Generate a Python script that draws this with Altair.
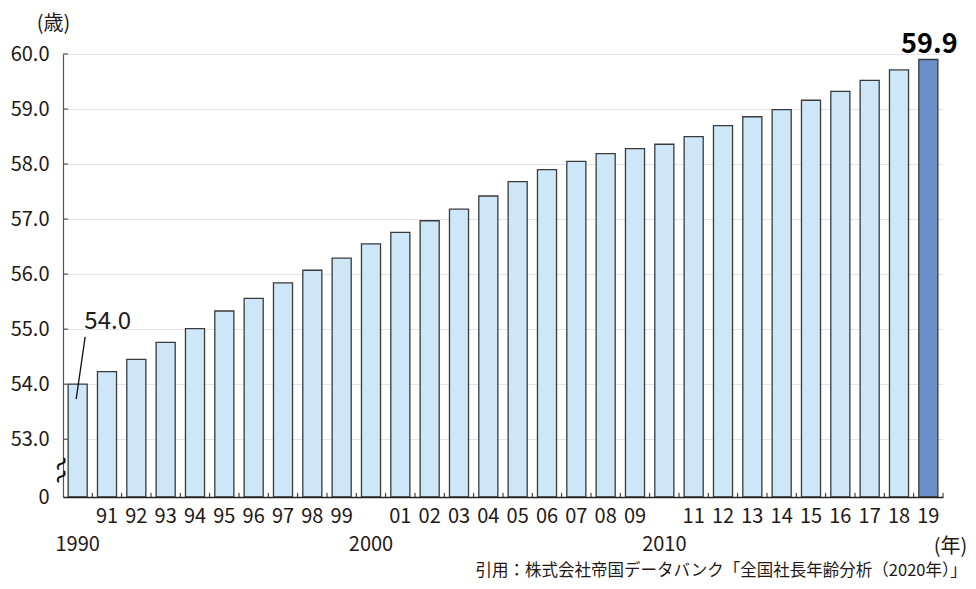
import altair as alt
import pandas as pd

FONT = "Noto Sans CJK JP"
TEXT = "#231815"

# ---- data ----
years = list(range(1990, 2020))
ages = [54.0, 54.23, 54.45, 54.76, 55.01, 55.33, 55.56, 55.84, 56.07, 56.29,
        56.55, 56.76, 56.97, 57.18, 57.42, 57.68, 57.90, 58.05, 58.19, 58.28,
        58.36, 58.50, 58.70, 58.86, 58.99, 59.16, 59.32, 59.52, 59.71, 59.9]
highlight_year = 2019

y_floor = 51.95                      # shown as "0" (broken axis)
y_ticks = [53, 54, 55, 56, 57, 58, 59, 60]

ann_years = [1990, 2019]
ann_labels = ["54.0", "59.9"]
ann_values = [54.0, 59.9]

leader_year = [1990]
leader_top = [54.86]
leader_bottom = [53.73]

break_marks = [52.53, 52.3]

source = "引用：株式会社帝国データバンク「全国社長年齢分析（2020年）」"

df = pd.DataFrame({"year": years, "age": ages})
ann = pd.DataFrame({"year": ann_years, "label": ann_labels, "age": ann_values})
lead = pd.DataFrame({"year": leader_year, "top": leader_top, "bottom": leader_bottom})
ytk = pd.DataFrame({"v": y_ticks})
brk = pd.DataFrame({"v": break_marks})

W, H = 880, 443
PAD_L, PAD_T = 55, 46
SVG_W, SVG_H = 960, 573

x_scale = alt.Scale(paddingInner=0, paddingOuter=0)
y_scale = alt.Scale(domain=[y_floor, 60], zero=False, nice=False)

x_axis = alt.Axis(
    title="(年)", titleAngle=0, titleX=W + 7, titleY=49,
    titleAlign="center", titleBaseline="middle", titleFontSize=20,
    titleFontWeight="normal", titleColor=TEXT,
    labelExpr="datum.value % 10 == 0 ? ['', '' + datum.value] : [slice('' + datum.value, 2)]",
    labelAngle=0, labelFontSize=20, labelLineHeight=28, labelPadding=9,
    labelColor=TEXT, ticks=False, domainColor="#222222", domainWidth=1.5,
    zindex=1,
)
y_axis = alt.Axis(
    values=[y_floor] + y_ticks,
    labelExpr="datum.value < 52.5 ? '0' : format(datum.value, '.1f')",
    ticks=False, grid=True, gridColor="#e4e4e4", gridWidth=1,
    domainColor="#555555", domainWidth=1.2,
    labelFontSize=20, labelPadding=14, labelColor=TEXT,
    title="(歳)", titleAngle=0, titleX=-10, titleY=-31,
    titleAlign="center", titleBaseline="middle", titleFontSize=20,
    titleFontWeight="normal", titleColor=TEXT,
)

X = alt.X("year:O", scale=x_scale, axis=x_axis)

bars = alt.Chart(df).mark_bar(
    width={"band": 0.65}, stroke="#3a3a3a", strokeWidth=1.3
).encode(
    x=X,
    y=alt.Y("age:Q", scale=y_scale, axis=y_axis),
    y2=alt.datum(y_floor),
    color=alt.condition(f"datum.year == {highlight_year}",
                        alt.value("#6a8fc9"), alt.value("#cde7f8")),
)

xticks = alt.Chart(df).mark_rule(color="#222222", strokeWidth=1).encode(
    x=alt.X("year:O", bandPosition=1),
    y=alt.datum(y_floor),
    y2=alt.datum(y_floor + 0.075),
)

yticks = alt.Chart(ytk).mark_rule(color="#555555", strokeWidth=1.2).encode(
    y="v:Q", x=alt.value(0), x2=alt.value(5),
)

label_first = alt.Chart(ann).transform_filter("datum.year == 1990").mark_text(
    fontSize=24, dx=30, dy=-62, color=TEXT, baseline="middle"
).encode(x="year:O", y="age:Q", text="label:N")

label_last = alt.Chart(ann).transform_filter(f"datum.year == {highlight_year}").mark_text(
    fontSize=27, fontWeight=600, dx=1, dy=-15, color="#000000", baseline="middle"
).encode(x="year:O", y="age:Q", text="label:N")

leader = alt.Chart(lead).mark_rule(
    color="#111111", strokeWidth=1.3, xOffset=7.5, x2Offset=-1.5
).encode(x="year:O", x2="year:O", y="top:Q", y2="bottom:Q")

breaks = alt.Chart(brk).mark_text(
    text="~", fontSize=30, angle=305, color="#111111", baseline="middle"
).encode(y="v:Q", x=alt.value(0))

chart = alt.layer(
    bars, xticks, yticks, leader, label_first, label_last, breaks
).properties(
    width=W, height=H,
    autosize=alt.AutoSizeParams(type="none"),
    padding={"left": PAD_L, "top": PAD_T,
             "right": SVG_W - PAD_L - W, "bottom": SVG_H - PAD_T - H},
    title=alt.TitleParams(
        text=source, orient="bottom", anchor="end", frame="bounds",
        fontSize=16.5, fontWeight="normal", color=TEXT, offset=7,
    ),
).configure(font=FONT).configure_view(stroke=None)

chart.save("out.html", embed_options={"renderer": "svg", "actions": False})
